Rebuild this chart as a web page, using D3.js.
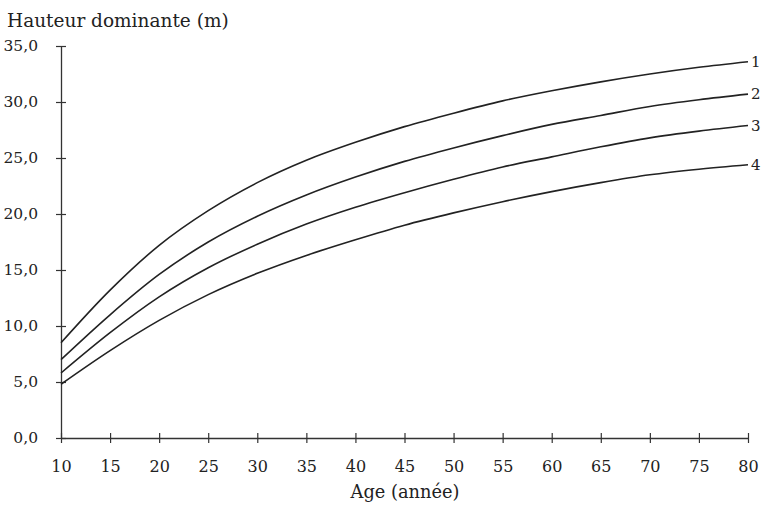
<!DOCTYPE html>
<html>
<head>
<meta charset="utf-8">
<script src="https://cdn.jsdelivr.net/npm/d3@7"></script>
<style>
  body { margin: 0; background: #fff; }
  text { font-family: "DejaVu Serif", serif; fill: #222; }
</style>
</head>
<body>
<div id="chart"></div>
<script>
(function() {
var width = 761,
  height = 508;

// data
var ages = [10, 15, 20, 25, 30, 35, 40, 45, 50, 55, 60, 65, 70, 75, 80];
var classe1 = [8.5, 13.2, 17.2, 20.3, 22.8, 24.8, 26.4, 27.8, 29.0, 30.1, 31.0, 31.8, 32.5, 33.1, 33.6];
var classe2 = [7.0, 11.0, 14.6, 17.5, 19.8, 21.7, 23.3, 24.7, 25.9, 27.0, 28.0, 28.8, 29.6, 30.2, 30.7];
var classe3 = [5.8, 9.4, 12.6, 15.2, 17.3, 19.1, 20.6, 21.9, 23.1, 24.2, 25.1, 26.0, 26.8, 27.4, 27.9];
var classe4 = [4.8, 7.8, 10.5, 12.8, 14.7, 16.3, 17.7, 19.0, 20.1, 21.1, 22.0, 22.8, 23.5, 24.0, 24.4];
var seriesNames = ["1", "2", "3", "4"];
var yTicks = [0, 5, 10, 15, 20, 25, 30, 35];
var xTicks = [10, 15, 20, 25, 30, 35, 40, 45, 50, 55, 60, 65, 70, 75, 80];

var series = [classe1, classe2, classe3, classe4].map(function(vals, i) {
  return { name: seriesNames[i], values: vals.map(function(v, j) { return { age: ages[j], h: v }; }) };
});

var svg = d3.select("#chart")
  .append("svg")
  .attr("width", width)
  .attr("height", height)

var x = d3.scaleLinear().domain([10, 80]).range([61, 748])
var y = d3.scaleLinear().domain([0, 35]).range([438, 46])

var fmt = function(d) { return d3.format(".1f")(d).replace(".", ","); };

// y axis
var yAxis = svg.append("g")
  .attr("transform", "translate(" + x(10) + ",0)")
  .call(d3.axisLeft(y).tickValues(yTicks).tickFormat(fmt).tickSizeOuter(0).tickPadding(17))
yAxis.select(".domain").attr("stroke", "#333").attr("stroke-width", 1.3)
yAxis.selectAll(".tick line").attr("x1", -5).attr("x2", 5).attr("stroke", "#333").attr("stroke-width", 1.2)
yAxis.selectAll(".tick text").attr("font-size", 15.5).attr("font-family", "DejaVu Serif").attr("fill", "#222")

// x axis
var xAxis = svg.append("g")
  .attr("transform", "translate(0," + y(0) + ")")
  .call(d3.axisBottom(x).tickValues(xTicks).tickSizeOuter(0).tickPadding(17))
xAxis.select(".domain").attr("stroke", "#333").attr("stroke-width", 1.3)
xAxis.selectAll(".tick line").attr("y1", -5).attr("y2", 5).attr("stroke", "#333").attr("stroke-width", 1.2)
xAxis.selectAll(".tick text").attr("font-size", 16).attr("font-family", "DejaVu Serif").attr("fill", "#222")

var line = d3.line()
  .x(function(d) { return x(d.age); })
  .y(function(d) { return y(d.h); })
  .curve(d3.curveMonotoneX)

svg.selectAll(".courbe")
  .data(series)
  .enter().append("path")
  .attr("class", "courbe")
  .attr("d", function(d) { return line(d.values); })
  .attr("fill", "none")
  .attr("stroke", "#222")
  .attr("stroke-width", 1.6)

svg.selectAll(".etiquette")
  .data(series)
  .enter().append("text")
  .attr("class", "etiquette")
  .attr("x", x(80) + 3)
  .attr("y", function(d) { return y(d.values[d.values.length - 1].h) + 5; })
  .attr("font-size", 15)
  .text(function(d) { return d.name; })

svg.append("text")
  .attr("x", 7)
  .attr("y", 27)
  .attr("font-size", 18.5)
  .text("Hauteur dominante (m)")

svg.append("text")
  .attr("x", 405)
  .attr("y", 498)
  .attr("text-anchor", "middle")
  .attr("font-size", 17.8)
  .text("Age (année)")
})();
</script>
</body>
</html>
